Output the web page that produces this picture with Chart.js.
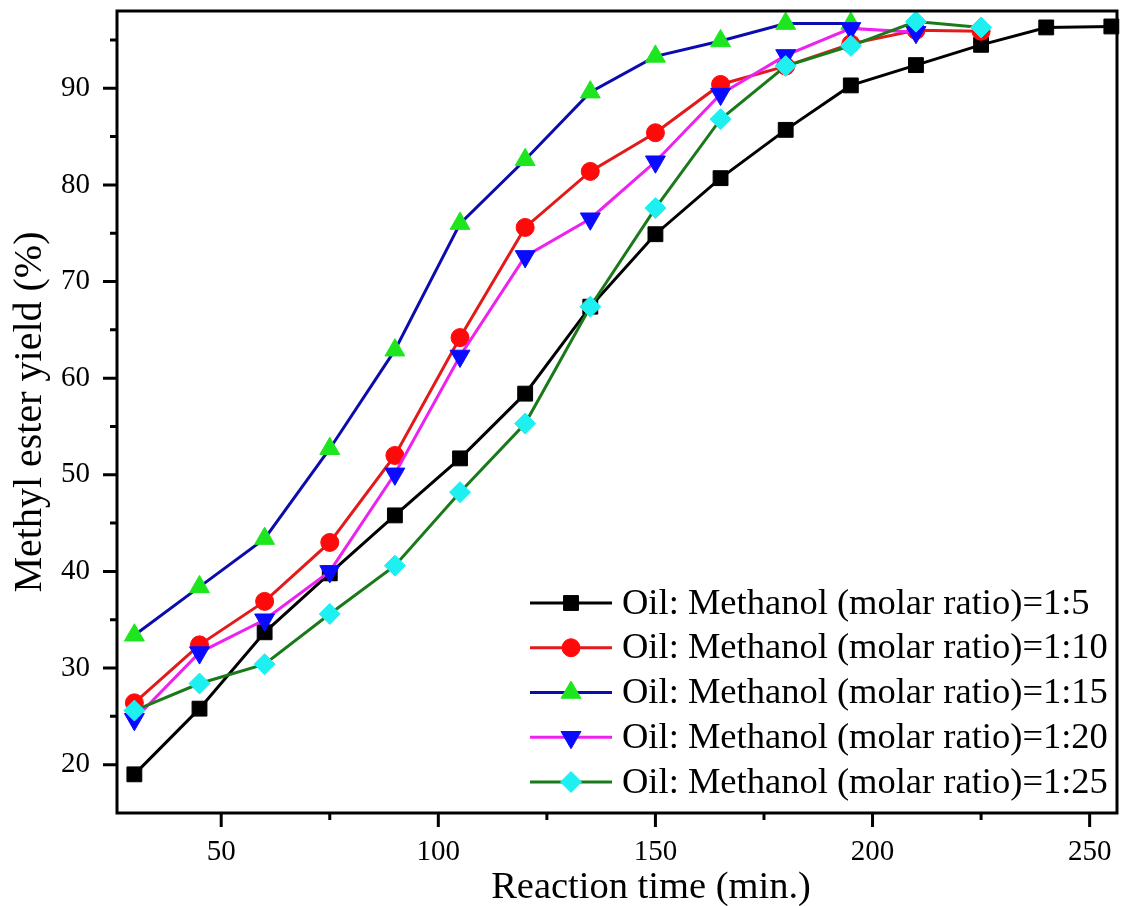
<!DOCTYPE html>
<html>
<head>
<meta charset="utf-8">
<script src="https://cdn.jsdelivr.net/npm/chart.js@4.4.0/dist/chart.umd.min.js"></script>
<style>
html,body{margin:0;padding:0;background:#fff;}
#wrap{width:1121px;height:906px;position:relative;}
</style>
</head>
<body>
<div id="wrap"><canvas id="c" width="1121" height="906"></canvas></div>
<script>
// ---- data ----
const times = [30, 45, 60, 75, 90, 105, 120, 135, 150, 165, 180, 195, 210, 225, 240, 255];
const seriesLabels = [
  'Oil: Methanol (molar ratio)=1:5',
  'Oil: Methanol (molar ratio)=1:10',
  'Oil: Methanol (molar ratio)=1:15',
  'Oil: Methanol (molar ratio)=1:20',
  'Oil: Methanol (molar ratio)=1:25'
];
const yieldRatio5  = [19.0, 25.8, 33.7, 39.8, 45.8, 51.7, 58.4, 67.4, 74.9, 80.7, 85.7, 90.3, 92.4, 94.5, 96.3, 96.4];
const yieldRatio10 = [26.4, 32.4, 36.9, 43.0, 52.0, 64.2, 75.6, 81.4, 85.4, 90.4, 92.3, 94.6, 96.0, 95.9];
const yieldRatio15 = [33.4, 38.4, 43.4, 52.7, 62.9, 76.0, 82.6, 89.6, 93.3, 94.9, 96.7, 96.7];
const yieldRatio20 = [24.7, 31.6, 35.0, 40.0, 50.1, 62.3, 72.6, 76.5, 82.4, 89.4, 93.4, 96.2, 95.8];
const yieldRatio25 = [25.6, 28.4, 30.4, 35.6, 40.6, 48.2, 55.3, 67.4, 77.6, 86.8, 92.3, 94.4, 96.9, 96.3];
const xMajorTicks = [50, 100, 150, 200, 250];
const xMinorTicks = [75, 125, 175, 225];
const yMajorTicks = [20, 30, 40, 50, 60, 70, 80, 90];
const yMinorTicks = [25, 35, 45, 55, 65, 75, 85, 95];
const xTitle = 'Reaction time (min.)';
const yTitle = 'Methyl ester yield (%)';

// ---- styling ----
const SERIF = "'Liberation Serif', 'Times New Roman', Times, serif";
const styles = [
  {line: '#000000', fill: '#000000', style: 'rect',     radius: 10.5, rot: 0},
  {line: '#e21a1a', fill: '#ff0a0a', style: 'circle',   radius: 9,    rot: 0},
  {line: '#0c0cae', fill: '#1ee61e', style: 'triangle', radius: 11.5, rot: 0},
  {line: '#ee22ee', fill: '#0a0aff', style: 'triangle', radius: 11.5, rot: 180},
  {line: '#1a7a1a', fill: '#1ef0f2', style: 'rectRot',  radius: 10.5, rot: 0}
];
const allValues = [yieldRatio5, yieldRatio10, yieldRatio15, yieldRatio20, yieldRatio25];

const datasets = allValues.map((vals, i) => ({
  label: seriesLabels[i],
  data: vals.map((v, k) => ({x: times[k], y: v})),
  borderColor: styles[i].line,
  backgroundColor: styles[i].fill,
  borderWidth: 3,
  pointStyle: styles[i].style,
  pointRadius: styles[i].radius,
  pointRotation: styles[i].rot,
  pointBackgroundColor: styles[i].fill,
  pointBorderColor: styles[i].fill,
  pointBorderWidth: 1,
  tension: 0,
  clip: false,
  order: allValues.length - i
}));

const framePlugin = {
  id: 'frameTicks',
  afterDraw(chart) {
    const {ctx, chartArea: a, scales} = chart;
    const x = scales.x, y = scales.y;
    ctx.save();
    ctx.strokeStyle = '#000';
    ctx.lineWidth = 3;
    ctx.lineCap = 'butt';
    ctx.beginPath();
    xMajorTicks.forEach(v => { const p = x.getPixelForValue(v); ctx.moveTo(p, a.bottom); ctx.lineTo(p, a.bottom + 14); });
    xMinorTicks.forEach(v => { const p = x.getPixelForValue(v); ctx.moveTo(p, a.bottom); ctx.lineTo(p, a.bottom + 7); });
    yMajorTicks.forEach(v => { const p = y.getPixelForValue(v); ctx.moveTo(a.left, p); ctx.lineTo(a.left - 14, p); });
    yMinorTicks.forEach(v => { const p = y.getPixelForValue(v); ctx.moveTo(a.left, p); ctx.lineTo(a.left - 7, p); });
    ctx.stroke();
    ctx.strokeRect(a.left, a.top, a.right - a.left, a.bottom - a.top);
    // x-axis title (placed slightly right of centre, as in the reference)
    ctx.fillStyle = '#000';
    ctx.font = '38.5px ' + SERIF;
    ctx.textAlign = 'center';
    ctx.textBaseline = 'alphabetic';
    ctx.fillText(xTitle, a.left + 534, a.bottom + 85);
    ctx.restore();
  }
};

const legendPlugin = {
  id: 'insideLegend',
  afterDatasetsDraw(chart) {
    const {ctx, chartArea: a} = chart;
    const x0 = a.right - 587, x1 = a.right - 505, xm = (x0 + x1) / 2, xt = a.right - 495;
    const top = a.bottom - 210, gap = 44.75;
    ctx.save();
    chart.data.datasets.forEach((ds, i) => {
      const yy = top + i * gap;
      ctx.strokeStyle = ds.borderColor;
      ctx.lineWidth = 3;
      ctx.beginPath(); ctx.moveTo(x0, yy); ctx.lineTo(x1, yy); ctx.stroke();
      ctx.fillStyle = ds.pointBackgroundColor;
      ctx.strokeStyle = ds.pointBorderColor;
      ctx.lineWidth = 1;
      Chart.helpers.drawPoint(ctx, {pointStyle: ds.pointStyle, radius: ds.pointRadius, rotation: ds.pointRotation, borderWidth: 1}, xm, yy);
      ctx.fillStyle = '#000';
      ctx.font = '36.5px ' + SERIF;
      ctx.textAlign = 'left';
      ctx.textBaseline = 'middle';
      ctx.fillText(ds.label, xt, yy + 1);
    });
    ctx.restore();
  }
};

const zeroPad = s => { s.paddingTop = 0; s.paddingBottom = 0; s.paddingLeft = 0; s.paddingRight = 0; };

new Chart(document.getElementById('c'), {
  type: 'line',
  data: {datasets},
  options: {
    responsive: false,
    animation: false,
    devicePixelRatio: 1,
    layout: {autoPadding: false, padding: {left: 0, top: 11, right: 4, bottom: 0}},
    plugins: {legend: {display: false}, tooltip: {enabled: false}},
    scales: {
      x: {
        type: 'linear', min: 26, max: 256.3,
        grid: {display: false, drawTicks: false},
        border: {display: false},
        afterBuildTicks: s => { s.ticks = xMajorTicks.map(v => ({value: v})); },
        afterFit: s => { s.height = 93; zeroPad(s); },
        ticks: {color: '#000', padding: 22, font: {family: SERIF, size: 29, lineHeight: 1.2}, maxRotation: 0, autoSkip: false},
        title: {display: false, text: xTitle}
      },
      y: {
        type: 'linear', min: 15, max: 98,
        grid: {display: false, drawTicks: false},
        border: {display: false},
        afterBuildTicks: s => { s.ticks = yMajorTicks.map(v => ({value: v})); },
        afterFit: s => { s.width = 117; zeroPad(s); },
        ticks: {color: '#000', padding: 27, font: {family: SERIF, size: 29, lineHeight: 1.2}, autoSkip: false},
        title: {display: true, text: yTitle, color: '#000', font: {family: SERIF, size: 40, lineHeight: 1.1}, padding: {top: 8, bottom: 0}}
      }
    }
  },
  plugins: [legendPlugin, framePlugin]
});
</script>
</body>
</html>
